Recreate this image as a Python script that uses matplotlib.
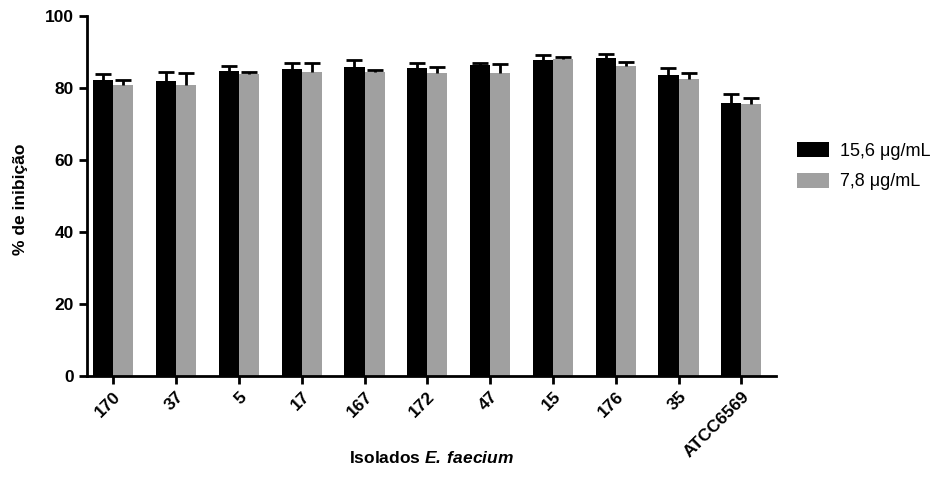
import matplotlib.pyplot as plt
import numpy as np

plt.rcParams['font.family'] = ['Liberation Sans', 'DejaVu Sans']
plt.rcParams['mathtext.fontset'] = 'custom'
plt.rcParams['mathtext.bfit'] = 'Liberation Sans:italic:bold'

isolados = ['170', '37', '5', '17', '167', '172', '47', '15', '176', '35', 'ATCC6569']
media_156 = [82.2, 82.0, 84.6, 85.1, 85.9, 85.6, 86.4, 87.6, 88.3, 83.6, 75.7]
erro_156 = [1.6, 2.4, 1.5, 1.7, 1.7, 1.3, 0.5, 1.5, 1.0, 2.0, 2.6]
media_78 = [80.8, 80.7, 83.9, 84.4, 84.4, 84.1, 84.1, 88.1, 86.0, 82.5, 75.4]
erro_78 = [1.4, 3.4, 0.5, 2.4, 0.6, 1.6, 2.5, 0.4, 1.1, 1.5, 1.9]

fig = plt.figure(figsize=(9.45, 4.94), dpi=100)
ax = fig.add_axes([0.092, 0.239, 0.729, 0.729])

x = np.arange(len(isolados))
w = 0.32
series = [(x - w / 2, media_156, erro_156, 'black', '15,6 μg/mL'),
          (x + w / 2, media_78, erro_78, '#a0a0a0', '7,8 μg/mL')]
for pos, med, err, cor, nome in series:
    med = np.array(med)
    err = np.array(err)
    ax.bar(pos, med, w, color=cor, label=nome, zorder=2)
    # barra de erro só para cima (estilo GraphPad)
    ax.vlines(pos, med, med + err, color='black', lw=2, zorder=3)
    ax.plot(pos, med + err, ls='none', marker='_', ms=11, mew=2, color='black', zorder=3)

ax.set_xlim(-0.42, 10.55)
ax.set_ylim(0, 100)
ax.set_yticks([0, 20, 40, 60, 80, 100])
ax.set_xticks(x)
ax.set_xticklabels(isolados, rotation=45, ha='right', rotation_mode='anchor')
for s in ['top', 'right']:
    ax.spines[s].set_visible(False)
for s in ['left', 'bottom']:
    ax.spines[s].set_linewidth(2)
ax.tick_params(width=2, length=6, labelsize=12.5)
for lab in ax.get_xticklabels() + ax.get_yticklabels():
    lab.set_fontweight('bold')

ax.set_ylabel('% de inibição', fontsize=12.5, fontweight='bold')
ax.yaxis.set_label_coords(-0.085, 0.49)
ax.set_xlabel(r'Isolados $\mathbfit{E.\,faecium}$', fontsize=12.5,
              fontweight='bold')
ax.xaxis.set_label_coords(0.5, -0.205)

fig.legend(loc='upper left', bbox_to_anchor=(0.826, 0.745), frameon=False,
           fontsize=13, handlelength=1.8, handleheight=0.9, handletextpad=0.6,
           labelspacing=0.7)

fig.savefig('out.png', dpi=100)
